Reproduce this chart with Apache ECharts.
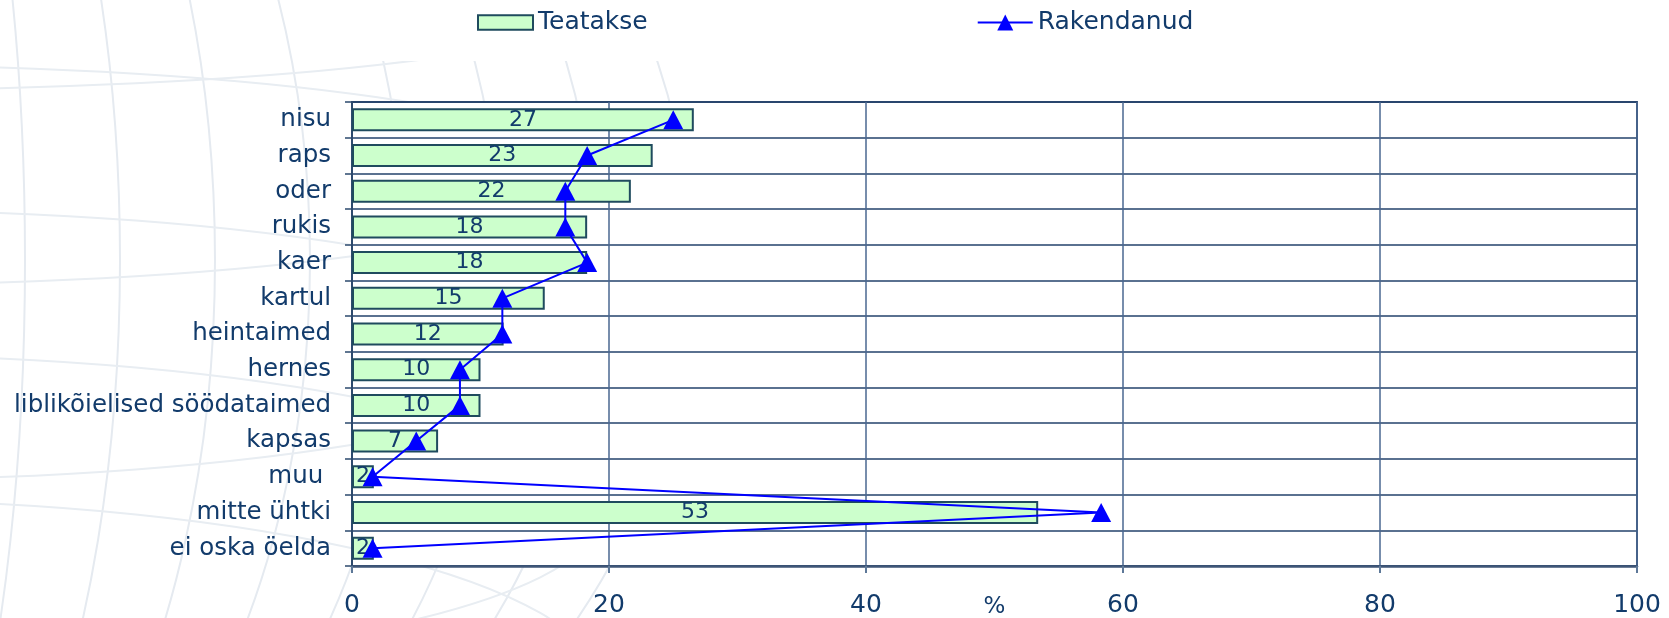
<!DOCTYPE html>
<html>
<head>
<meta charset="utf-8">
<script src="https://cdn.jsdelivr.net/npm/echarts@6/dist/echarts.min.js"></script>
<style>
  html, body { margin: 0; padding: 0; background: #fff; }
  #chart { width: 1669px; height: 618px; }
</style>
</head>
<body>
<div id="chart"></div>
<script>
// andmed (loetud pildilt)
const categories = ['nisu', 'raps', 'oder', 'rukis', 'kaer', 'kartul', 'heintaimed', 'hernes',
  'liblikõielised söödataimed', 'kapsas', 'muu ', 'mitte ühtki', 'ei oska öelda'];
const teatakse = [26.6, 23.4, 21.7, 18.3, 18.3, 15.0, 11.8, 10.0, 10.0, 6.7, 1.7, 53.4, 1.7];
const rakendanud = [25.0, 18.3, 16.6, 16.6, 18.3, 11.7, 11.7, 8.4, 8.4, 5.0, 1.6, 58.3, 1.6];
const xTicks = [0, 20, 40, 60, 80, 100];

const NAVY = '#123b6b';
const FONT = '"DejaVu Sans", Verdana, sans-serif';

// taustamuster: kahvatud kaared (dekoratsioon)
const deco = [];
for (let i = 0; i < 9; i++) {
  deco.push({
    type: 'ellipse', z: -10, silent: true,
    shape: { cx: -160, cy: 260, rx: 90 + i * 95, ry: 720 },
    style: { fill: null, stroke: '#e5eaf0', lineWidth: 2 }
  });
}
for (let i = 0; i < 6; i++) {
  deco.push({
    type: 'ellipse', z: -10, silent: true,
    shape: { cx: -160, cy: 260 + (i - 2.5) * 170, rx: 760, ry: 60 + i * 25 },
    style: { fill: null, stroke: '#e8edf2', lineWidth: 2 }
  });
}

const chart = echarts.init(document.getElementById('chart'));
chart.setOption({
  animation: false,
  backgroundColor: '#fff',
  textStyle: { fontFamily: FONT, color: NAVY },
  graphic: deco,
  legend: {
    left: 311, top: 0,
    padding: [10, 330, 26, 166],
    backgroundColor: '#fff',
    itemGap: 329,
    itemWidth: 55, itemHeight: 20,
    textStyle: { fontSize: 25, color: NAVY, fontFamily: FONT },
    data: [
      { name: 'Teatakse', icon: 'path://M0,0h53v14h-53z' },
      { name: 'Rakendanud' }
    ]
  },
  grid: {
    left: 352, right: 32, top: 102, bottom: 52,
    outerBoundsMode: 'none',
    show: true, backgroundColor: '#fff',
    borderColor: '#3f5677', borderWidth: 2
  },
  xAxis: {
    type: 'value', min: xTicks[0], max: xTicks[xTicks.length - 1], interval: 20,
    name: '%', nameLocation: 'middle', nameGap: 30, nameMoveOverlap: false,
    nameTextStyle: { fontSize: 23, color: NAVY },
    axisLine: { show: true, lineStyle: { color: '#3f5677', width: 2.5 } },
    axisTick: { show: true, length: 7, lineStyle: { color: '#5d7898', width: 2 } },
    axisLabel: { fontSize: 25, color: NAVY, margin: 27 },
    splitLine: { show: true, lineStyle: { color: '#4a6790', width: 1.5 } }
  },
  yAxis: {
    type: 'category', data: categories, inverse: true,
    axisLine: { show: true, lineStyle: { color: '#2d4a6e', width: 2 } },
    axisTick: { show: true, length: 7, interval: 0, lineStyle: { color: '#2d4a6e', width: 1.5 } },
    axisLabel: { fontSize: 24.5, color: NAVY, margin: 21, interval: 0 },
    splitLine: { show: true, interval: 0, lineStyle: { color: '#23426b', width: 1.5 } }
  },
  series: [
    {
      name: 'Teatakse', type: 'bar', data: teatakse, barWidth: 23,
      itemStyle: { color: '#ccffcc', borderColor: '#1f4b5e', borderWidth: 2 },
      label: {
        show: true, position: 'inside', fontSize: 22, color: NAVY,
        formatter: p => Math.round(p.value)
      }
    },
    {
      name: 'Rakendanud', type: 'line', data: rakendanud, z: 5,
      symbol: 'triangle', symbolSize: [20, 19],
      lineStyle: { color: '#0000ff', width: 2 },
      itemStyle: { color: '#0000ff' }
    }
  ]
});
</script>
</body>
</html>
